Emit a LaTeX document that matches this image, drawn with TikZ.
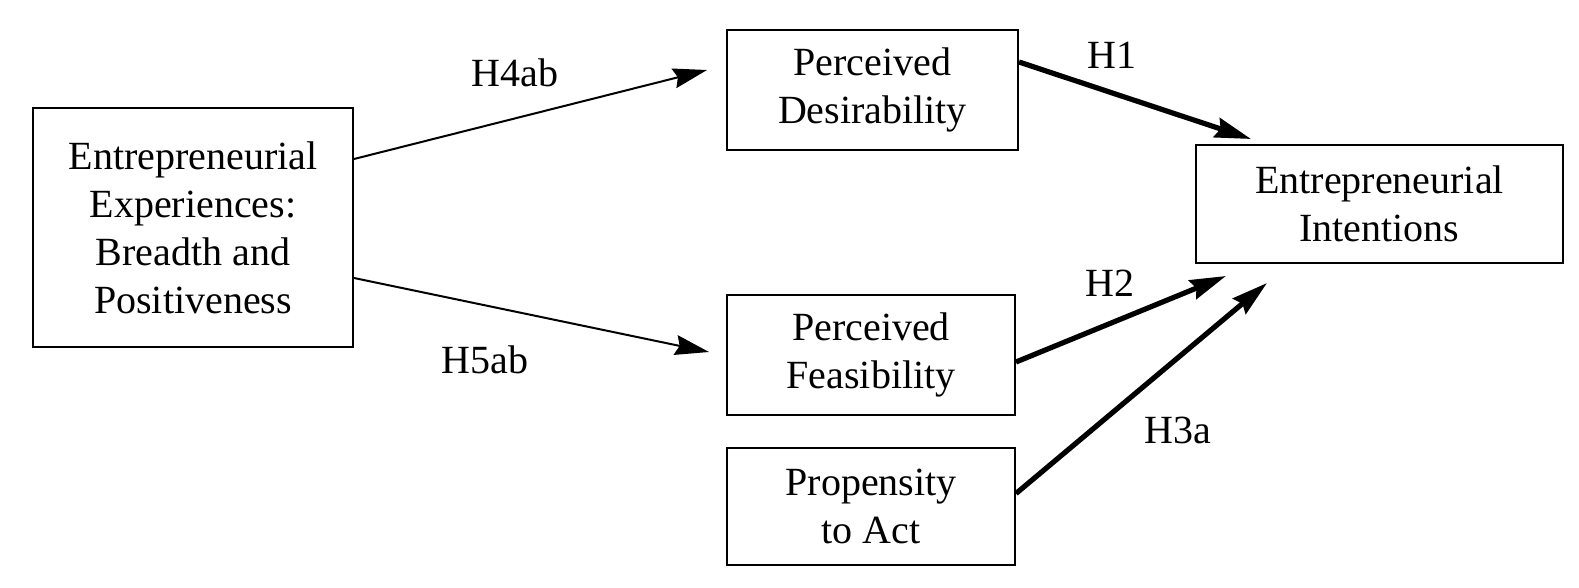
\documentclass[tikz,border=0pt]{standalone}
\usepackage{fontspec}
\setmainfont{Liberation Serif}
\usetikzlibrary{arrows.meta}
\tikzset{%
  every box/.style={
    rectangle,
    draw,
    line width=1pt,
    align=center,
    inner sep=0pt,
    font=\fontsize{20}{24}\selectfont
  },
  link/.style={
    line width=1pt,
    -{Stealth[length=17pt, width=10pt, inset=2pt]}
  },
  strong link/.style={
    line width=2.6pt,
    -{Stealth[length=18pt, width=10pt, inset=2pt]}
  },
  hyp label/.style={
    font=\fontsize{20}{24}\selectfont
  },
}
\begin{document}
\begin{tikzpicture}[x=0.5pt, y=-0.5pt]

\useasboundingbox (0,0) rectangle (1579,588);

% Boxes
\node [every box, minimum width=160pt, minimum height=119.5pt] (exp) at (193,227.5)
  {Entrepreneurial\\ Experiences:\\ Breadth and\\ Positiveness};
\node [every box, minimum width=145.5pt, minimum height=60pt] (des) at (872.5,90)
  {Perceived\\ Desirability};
\node [every box, minimum width=144pt, minimum height=60pt] (fea) at (871,355)
  {Perceived\\ Feasibility};
\node [every box, minimum width=144pt, minimum height=58.5pt] (pro) at (871,506.5)
  {Propensity\\ to Act};
\node [every box, minimum width=183.5pt, minimum height=59pt] (int) at (1379.5,204)
  {Entrepreneurial\\ Intentions};

% Arrows
\draw [link] ([yshift=-26pt]exp.north east) -- ([xshift=-9.5pt, yshift=10pt]des.west);
\draw [link] ([yshift=35pt]exp.south east) -- ([xshift=-8.5pt, yshift=1.5pt]fea.west);

\draw [strong link] ([yshift=14pt]des.east) -- ([xshift=28pt, yshift=2.5pt]int.north west);
\draw [strong link] ([yshift=-3.5pt]fea.east) -- ([xshift=15.5pt, yshift=-6pt]int.south west);
\draw [strong link] ([yshift=6.5pt]pro.east) -- ([xshift=36pt, yshift=-9.5pt]int.south west);

% Hypothesis labels
\foreach \l/\x/\y in {H4ab/515/73, H5ab/485/360, H1/1112/55, H2/1110/283, H3a/1178/430}
  \node [hyp label] (lab-\l) at (\x,\y) {\l};

\end{tikzpicture}
\end{document}
